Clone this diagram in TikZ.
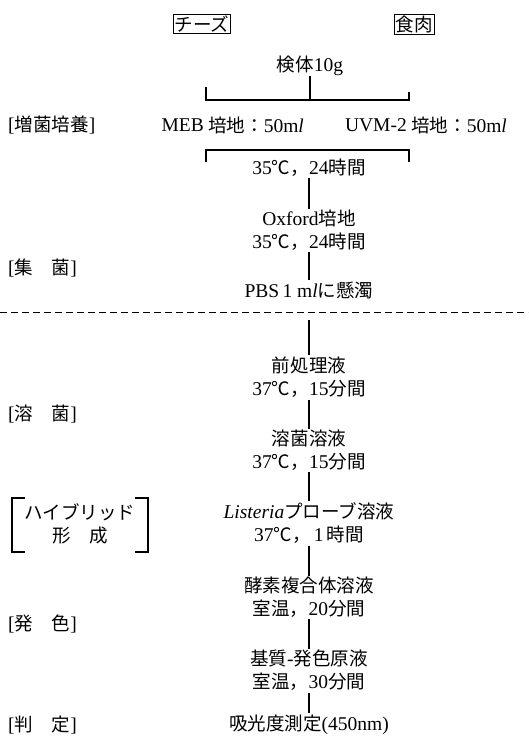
\documentclass[tikz,border=0pt]{standalone}
\usepackage{fontspec}
\setmainfont{Liberation Serif}
\newfontfamily\cjfont[Scale=0.95]{Noto Sans CJK JP}
\newcommand{\jp}[1]{{\cjfont #1}}
\begin{document}
\begin{tikzpicture}[x=1pt,y=-1pt,
  txt/.style={font=\fontsize{19.5}{23}\selectfont, inner sep=0pt, align=center},
  conn/.style={line width=1.1pt, shorten <=1.5pt, shorten >=1.5pt},
  brk/.style={line width=1.8pt},
  thinline/.style={line width=1.1pt},
  hdr/.style={draw, line width=0.9pt, inner sep=1.5pt, font=\fontsize{19.5}{23}\selectfont},
  lbl/.style={txt, anchor=west},
  sep/.style={line width=0.9pt, dash pattern=on 7pt off 4pt}]
\useasboundingbox (0,0) rectangle (528,739);

% headers
\node[hdr] (cheese) at (202,24) {\jp{チーズ}};
\node[hdr] (meat) at (414,24) {\jp{食肉}};

% sample and enrichment
\node[txt] (sample) at (310,66) {\jp{検体}10g};
\coordinate (btop) at (310,100);
\coordinate (tl) at (206,100);
\coordinate (trr) at (409,100);
\coordinate (bl) at (206,150);
\coordinate (br) at (409,150);
\draw[brk] ([yshift=13]tl) -- (tl) -- (trr) -- ([yshift=8]trr);
\draw[brk] ([yshift=-12]bl) -- (bl) -- (br) -- ([yshift=-12]br);
\node[txt, anchor=east] (meb) at (204,125) {MEB};
\node[txt, anchor=west] (mebm) at (208,125) {\jp{培地：}50m\textit{l}};
\node[txt, anchor=east] (uvm) at (407,125) {UVM-2};
\node[txt, anchor=west] (uvmm) at (411,125) {\jp{培地：}50m\textit{l}};
\draw[thinline] (sample.south) -- (btop);

\node[txt] (n2) at (309,168) {35\jp{℃，}24\jp{時間}};
\node[txt] (n3) at (309,230.5) {Oxford\jp{培地}\\35\jp{℃，}24\jp{時間}};
\node[txt] (n4) at (309,290) {PBS\,1 m\textit{l}\jp{に懸濁}};

\draw[sep] (0,312) -- (528,312);
\coordinate (dsh) at (309,318);

\node[txt] (n5) at (309,377.5) {\jp{前処理液}\\37\jp{℃，}15\jp{分間}};
\node[txt] (n6) at (309,450.5) {\jp{溶菌溶液}\\37\jp{℃，}15\jp{分間}};
\node[txt] (n7) at (309,523.5) {\textit{Listeria}\jp{プローブ溶液}\\37\jp{℃，}\,1\,\jp{時間}};
\node[txt] (n8) at (309,597.5) {\jp{酵素複合体溶液}\\\jp{室温，}20\jp{分間}};
\node[txt] (n9) at (309,670.5) {\jp{基質}-\jp{発色原液}\\\jp{室温，}30\jp{分間}};
\node[txt] (n10) at (309,725) {\jp{吸光度測定}(450nm)};

\draw[conn] (n2) -- (n3);
\draw[conn] (n3) -- (n4);
\draw[conn] (dsh) -- (n5);
\draw[conn] (n5) -- (n6);
\draw[conn] (n6) -- (n7);
\draw[conn] (n7) -- (n8);
\draw[conn] (n8) -- (n9);
\draw[conn] (n9) -- (n10);

% left labels
\node[lbl] (l1) at (8,125) {[\jp{増菌培養}]};
\node[lbl] (l2) at (8,268) {[\jp{集　菌}]};
\node[lbl] (l3) at (8,414) {[\jp{溶　菌}]};
\node[txt] (l4) at (80,524) {\jp{ハイブリッド}\\\jp{形　成}};
\draw[thinline] (25,498) -- (12,498) -- (12,552) -- (25,552);
\draw[thinline] (135,498) -- (148,498) -- (148,552) -- (135,552);
\node[lbl] (l5) at (8,624) {[\jp{発　色}]};
\node[lbl] (l6) at (8,725) {[\jp{判　定}]};
\end{tikzpicture}
\end{document}
